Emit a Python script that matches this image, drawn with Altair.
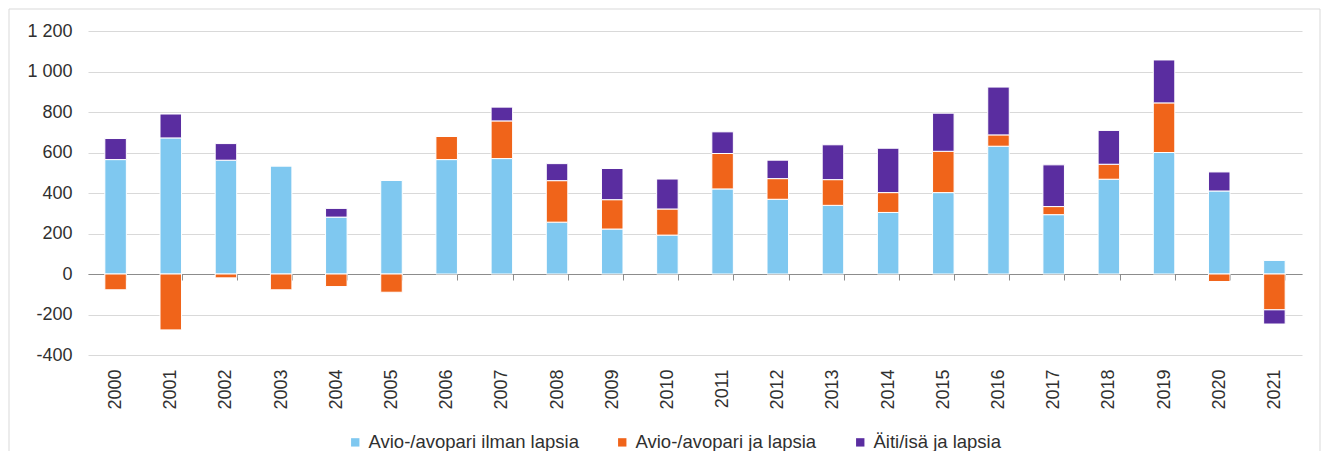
import altair as alt
import pandas as pd

years = [str(y) for y in range(2000, 2022)]
series = ["Avio-/avopari ilman lapsia", "Avio-/avopari ja lapsia", "Äiti/isä ja lapsia"]
colors = ["#7FC8F0", "#F0641A", "#5A2DA0"]

couples_no_children = [565, 672, 562, 534, 281, 463, 565, 570, 256, 222, 192,
                       420, 369, 339, 304, 402, 631, 293, 468, 600, 410, 67]
couples_with_children = [-78, -276, -19, -78, -62, -90, 114, 186, 205, 145, 129,
                         175, 102, 127, 98, 204, 56, 40, 74, 245, -37, -177]
single_parents = [104, 118, 82, 0, 43, 0, 0, 68, 84, 154, 148,
                  107, 91, 172, 219, 188, 236, 206, 167, 212, 94, -70]

rows = []
for i, y in enumerate(years):
    for k, vals in enumerate([couples_no_children, couples_with_children, single_parents]):
        rows.append({"vuosi": y, "sarja": series[k], "idx": k, "arvo": vals[i]})
df = pd.DataFrame(rows)

FONT = "Liberation Sans"
TXT = "#303030"

bars = alt.Chart(df).mark_bar(stroke="white", strokeWidth=1).encode(
    x=alt.X("vuosi:N", sort=years, title=None,
            scale=alt.Scale(paddingInner=0.61, paddingOuter=0.305),
            axis=alt.Axis(offset=-81, labelAngle=-90, tickBand="extent", tickSize=6,
                          tickColor="#8C8C8C", domainColor="#8C8C8C", domainWidth=1,
                          labelPadding=89, labelFont=FONT, labelFontSize=18,
                          labelColor=TXT, grid=False)),
    y=alt.Y("arvo:Q", stack="zero", title=None,
            scale=alt.Scale(domain=[-400, 1200], nice=False),
            axis=alt.Axis(values=[-400, -200, 0, 200, 400, 600, 800, 1000, 1200],
                          labelExpr="replace(replace(format(datum.value, ','), ',', ' '), '\u2212', '-')",
                          domain=False, ticks=False, labelPadding=16,
                          labelFont=FONT, labelFontSize=18, labelColor=TXT,
                          gridColor="#D9D9D9", gridWidth=1)),
    color=alt.Color("sarja:N", sort=series,
                    scale=alt.Scale(domain=series, range=colors),
                    legend=alt.Legend(title=None, orient="none", direction="horizontal",
                                      legendX=258, legendY=402,
                                      symbolType="square", symbolSize=70,
                                      symbolStrokeWidth=0, labelOffset=4,
                                      columnPadding=34, labelLimit=0, labelFont=FONT,
                                      labelFontSize=18.5, labelColor=TXT)),
    order=alt.Order("idx:Q", sort="ascending"),
)

frame = alt.Chart(df).mark_rect(fillOpacity=0, stroke="#D9D9D9", strokeWidth=1).encode(
    x=alt.value(-79), x2=alt.value(1232), y=alt.value(-22), y2=alt.value(480)
).transform_filter("datum.idx == 0 && datum.vuosi == '2000'")

chart = alt.layer(frame, bars).properties(
    width=1214, height=324,
    background="white",
    autosize=alt.AutoSizeParams(type="none"),
    padding={"left": 80, "top": 23, "right": 20, "bottom": 96},
).configure_view(stroke=None)

chart.save("out.html", embed_options={"renderer": "svg", "actions": False})
